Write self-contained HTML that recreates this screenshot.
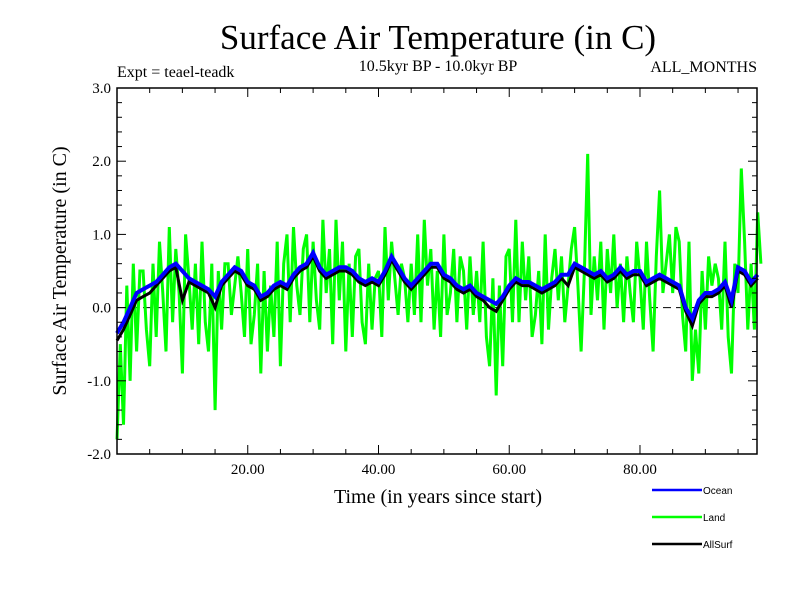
<!DOCTYPE html>
<html><head><meta charset="utf-8"><style>
body{margin:0;background:#fff;}
svg{display:block;}
text{font-family:"Liberation Serif",serif;fill:#000;}
</style></head><body>
<svg id="chart" width="800" height="600">
<text x="438" y="49" font-size="35" text-anchor="middle">Surface Air Temperature (in C)</text>
<text x="117" y="77" font-size="16">Expt = teael-teadk</text>
<text x="438" y="71" font-size="16" text-anchor="middle">10.5kyr BP - 10.0kyr BP</text>
<text x="757" y="72" font-size="16" text-anchor="end">ALL_MONTHS</text>
<text transform="translate(66,271) rotate(-90)" font-size="20" text-anchor="middle">Surface Air Temperature (in C)</text>
<text x="438" y="503" font-size="20" text-anchor="middle">Time (in years since start)</text>
<g id="plot"></g>
<g id="axes"></g>
<g>
<line x1="652" y1="490" x2="702" y2="490" stroke="#0000ff" stroke-width="2.5"/>
<text x="703" y="494" font-size="10" style="font-family:'Liberation Sans',sans-serif">Ocean</text>
<line x1="652" y1="517" x2="702" y2="517" stroke="#00ff00" stroke-width="2.5"/>
<text x="703" y="521" font-size="10" style="font-family:'Liberation Sans',sans-serif">Land</text>
<line x1="652" y1="544" x2="702" y2="544" stroke="#000" stroke-width="2.5"/>
<text x="703" y="548" font-size="10" style="font-family:'Liberation Sans',sans-serif">AllSurf</text>
</g>
</svg>
<script>
const oceanValues=[-0.35,-0.2,0.0,0.2,0.25,0.3,0.35,0.45,0.55,0.6,0.5,0.4,0.35,0.3,0.25,0.15,0.35,0.45,0.55,0.5,0.35,0.3,0.15,0.2,0.3,0.35,0.3,0.45,0.55,0.6,0.75,0.55,0.45,0.5,0.55,0.55,0.5,0.4,0.35,0.4,0.35,0.5,0.7,0.55,0.4,0.3,0.4,0.5,0.6,0.6,0.45,0.4,0.3,0.25,0.3,0.2,0.15,0.1,0.05,0.15,0.3,0.4,0.35,0.35,0.3,0.25,0.3,0.35,0.45,0.45,0.6,0.55,0.5,0.45,0.5,0.4,0.45,0.55,0.45,0.5,0.5,0.35,0.4,0.45,0.4,0.35,0.3,0.0,-0.15,0.1,0.2,0.2,0.25,0.35,0.1,0.55,0.5,0.35,0.45];
const allSurfValues=[-0.45,-0.3,-0.1,0.1,0.15,0.2,0.3,0.4,0.5,0.55,0.1,0.35,0.3,0.25,0.2,0.0,0.3,0.4,0.5,0.45,0.3,0.25,0.1,0.15,0.25,0.3,0.25,0.4,0.5,0.55,0.7,0.5,0.4,0.45,0.5,0.5,0.45,0.35,0.3,0.35,0.3,0.45,0.65,0.5,0.35,0.25,0.35,0.45,0.55,0.55,0.4,0.35,0.25,0.2,0.25,0.15,0.1,0.0,-0.05,0.1,0.25,0.35,0.3,0.3,0.25,0.2,0.25,0.3,0.4,0.3,0.55,0.5,0.45,0.4,0.45,0.35,0.4,0.5,0.4,0.45,0.45,0.3,0.35,0.4,0.35,0.3,0.25,-0.05,-0.25,0.05,0.15,0.15,0.2,0.3,0.0,0.5,0.45,0.3,0.4];
const landValues=[-1.8,-0.5,-1.6,0.3,-1.0,0.6,-0.6,0.5,0.5,-0.3,-0.8,0.6,-0.4,0.9,0.2,-0.6,1.1,-0.2,0.8,0.2,-0.9,1.0,0.4,-0.3,0.6,-0.5,0.9,-0.2,-0.6,0.6,-1.4,0.5,-0.3,0.6,0.6,-0.1,0.3,0.7,0.2,-0.4,0.8,-0.5,-0.1,0.6,-0.9,0.5,-0.6,0.3,-0.4,0.9,-0.8,0.6,1.0,-0.2,1.1,0.3,-0.1,0.8,1.0,-0.2,0.9,0.1,-0.3,1.2,0.2,0.8,-0.5,1.2,0.1,0.9,-0.6,0.6,-0.4,0.7,0.8,-0.2,-0.5,0.6,-0.3,0.4,0.5,-0.4,1.1,0.1,0.9,0.4,-0.1,0.6,0.4,-0.2,0.6,-0.1,1.0,-0.2,1.2,0.3,0.8,-0.3,0.5,-0.4,1.0,-0.1,0.2,0.8,-0.2,0.7,0.5,-0.3,0.7,-0.1,0.5,-0.2,0.9,-0.4,-0.8,0.4,-1.2,0.3,-0.8,0.7,0.8,-0.2,1.2,-0.2,0.9,0.1,0.7,-0.4,-0.1,0.5,-0.5,1.0,-0.3,0.4,0.8,0.1,0.7,-0.2,0.3,0.8,1.1,0.3,-0.6,0.5,2.1,-0.1,0.7,0.1,0.9,-0.3,0.8,0.2,1.0,0.0,0.6,-0.2,0.7,0.2,-0.2,0.9,0.4,-0.3,0.9,0.1,-0.6,0.7,1.6,0.2,0.6,1.0,0.2,1.1,0.9,-0.1,-0.6,0.9,-1.0,-0.3,-0.9,0.5,-0.3,0.7,0.3,0.6,0.4,-0.3,0.9,-0.4,-0.9,0.6,0.2,1.9,0.9,-0.3,0.6,-0.3,1.3,0.6];
const yTickValues=[-2,-1,0,1,2,3];
const yTickLabels=["-2.0","-1.0","0.0","1.0","2.0","3.0"];
const xTickValues=[20,40,60,80];
const xTickLabels=["20.00","40.00","60.00","80.00"];

const L=117,R=757,T=88,B=454,XMAX=97.9,YMIN=-2,YMAX=3;
function xs(t){return L+(t/XMAX)*(R-L);}
function ys(v){return B-(v-YMIN)/(YMAX-YMIN)*(B-T);}
const NS="http://www.w3.org/2000/svg";
const plot=document.getElementById('plot'), axes=document.getElementById('axes');
function mk(tag,attrs,parent){const e=document.createElementNS(NS,tag);for(const k in attrs)e.setAttribute(k,attrs[k]);parent.appendChild(e);return e;}

const zl=mk('line',{x1:L,x2:R,y1:ys(0),y2:ys(0),stroke:'#000','stroke-width':1,'stroke-dasharray':'8,5'},plot);



function series(vals,step,color,w,name){
  const d=vals.map((v,i)=>(i?'L':'M')+xs(i*step).toFixed(1)+','+ys(v).toFixed(1)).join('');
  const p=mk('path',{d:d,fill:'none',stroke:color,'stroke-width':w,'stroke-linejoin':'miter'},plot);
  
  
}
series(landValues,0.5,'#00ff00',3,'land-series');
series(allSurfValues,1,'#000000',3,'allsurf-series');
series(oceanValues,1,'#0000ff',4,'ocean-series');

const frame=mk('rect',{x:L,y:T,width:R-L,height:B-T,fill:'none',stroke:'#000','stroke-width':1.5},axes);



for(let k=0;k<=25;k++){
  const v=YMIN+k*0.2, y=ys(v), major=(k%5===0), len=major?9:5;
  const t1=mk('line',{x1:L,x2:L+len,y1:y,y2:y,stroke:'#000','stroke-width':1},axes);
  
  
  const t2=mk('line',{x1:R,x2:R-len,y1:y,y2:y,stroke:'#000','stroke-width':1},axes);
  
  
}
yTickValues.forEach((v,i)=>{
  const t=mk('text',{x:L-6,y:ys(v)+5,'font-size':15,'text-anchor':'end'},axes);
  t.textContent=yTickLabels[i];
  
  
});
for(let yr=5;yr<XMAX;yr+=5){
  const x=xs(yr), major=(yr%20===0), len=major?9:5;
  const a=mk('line',{x1:x,x2:x,y1:B,y2:B-len,stroke:'#000','stroke-width':1},axes);
  
  
  const b=mk('line',{x1:x,x2:x,y1:T,y2:T+len,stroke:'#000','stroke-width':1},axes);
  
  
}
xTickValues.forEach((v,i)=>{
  const t=mk('text',{x:xs(v),y:B+20,'font-size':15,'text-anchor':'middle'},axes);
  t.textContent=xTickLabels[i];
  
  
});
</script>
</body></html>
